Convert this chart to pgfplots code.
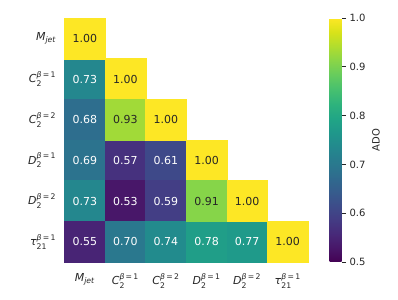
\documentclass[border=0pt]{standalone}
\usepackage{pgfplots}
\pgfplotsset{compat=1.18}
\usepackage{amsmath}
\usepackage{fontspec}
\setmainfont{DejaVu Sans}
\pgfkeys{/pgf/number format/assume math mode=true}
\definecolor{txt}{HTML}{262626}
\newcommand{\vlab}[3]{$\text{\itshape #1}_{\text{#2}}^{\text{{\itshape β}\,=\,#3}}$}
\pgfplotstableread{
x y v
0 1 0.73
0 2 0.68
0 3 0.69
0 4 0.73
1 3 0.57
2 3 0.61
1 4 0.53
2 4 0.59
0 5 0.55
1 5 0.70
2 5 0.74
3 5 0.78
4 5 0.77
}\lightcells
\pgfplotstableread{
x y v
0 0 1.00
1 1 1.00
1 2 0.93
2 2 1.00
3 3 1.00
3 4 0.91
4 4 1.00
5 5 1.00
}\darkcells
\begin{document}
\begin{tikzpicture}
\path[use as bounding box] (0,0) rectangle (398bp,300bp);
\begin{axis}[
  at={(64.5bp,38bp)}, anchor=south west,
  scale only axis, width=243.5bp, height=244bp,
  xmin=-0.5, xmax=5.5, ymin=-0.5, ymax=5.5, y dir=reverse,
  clip=false,
  xtick={0,...,5}, ytick={0,...,5},
  xticklabels={{$\text{\itshape M}_{\text{\itshape jet}}$},{\vlab{C}{2}{1}},{\vlab{C}{2}{2}},{\vlab{D}{2}{1}},{\vlab{D}{2}{2}},{\vlab{τ}{21}{1}}},
  yticklabels={{$\text{\itshape M}_{\text{\itshape jet}}$},{\vlab{C}{2}{1}},{\vlab{C}{2}{2}},{\vlab{D}{2}{1}},{\vlab{D}{2}{2}},{\vlab{τ}{21}{1}}},
  axis line style={draw=none}, major tick length=0pt,
  tick label style={font=\fontsize{11bp}{13bp}\selectfont, text=txt},
  yticklabel style={xshift=-5bp},
  xticklabel style={yshift=-8bp},
  colormap/viridis,
  point meta min=0.5, point meta max=1,
  colorbar,
  colorbar style={
    at={(parent axis.north east)}, anchor=north west, xshift=13bp,
    scale only axis, width=12bp, height=244bp,
    ytick={0.5,0.6,0.7,0.8,0.9,1.0},
    yticklabel style={font=\fontsize{10bp}{12bp}\selectfont, text=txt, /pgf/number format/.cd, fixed, fixed zerofill, precision=1},
    ylabel={ADO},
    ylabel style={font=\fontsize{10bp}{12bp}\selectfont, text=txt},
    axis line style={draw=none},
    major tick length=4.5bp, tick align=outside, ytick pos=right,
    tick style={color=txt, line width=0.8bp},
  },
]
% coloured cells
\addplot[scatter, only marks, mark=square*, mark size=20.4bp,
  scatter src=explicit,
  scatter/use mapped color={draw=mapped color, fill=mapped color},
] table[x=x, y=y, meta=v] {\lightcells};
\addplot[scatter, only marks, mark=square*, mark size=20.4bp,
  scatter src=explicit,
  scatter/use mapped color={draw=mapped color, fill=mapped color},
] table[x=x, y=y, meta=v] {\darkcells};
% annotations
\addplot[draw=none, mark=none, point meta=explicit,
  nodes near coords={\pgfmathprintnumber[fixed,fixed zerofill,precision=2]{\pgfplotspointmeta}},
  nodes near coords align=center,
  every node near coord/.append style={text=white, anchor=center, font=\fontsize{11bp}{13bp}\selectfont},
] table[x=x, y=y, meta=v] {\lightcells};
\addplot[draw=none, mark=none, point meta=explicit,
  nodes near coords={\pgfmathprintnumber[fixed,fixed zerofill,precision=2]{\pgfplotspointmeta}},
  nodes near coords align=center,
  every node near coord/.append style={text=txt, anchor=center, font=\fontsize{11bp}{13bp}\selectfont},
] table[x=x, y=y, meta=v] {\darkcells};
\end{axis}
\end{tikzpicture}
\end{document}
